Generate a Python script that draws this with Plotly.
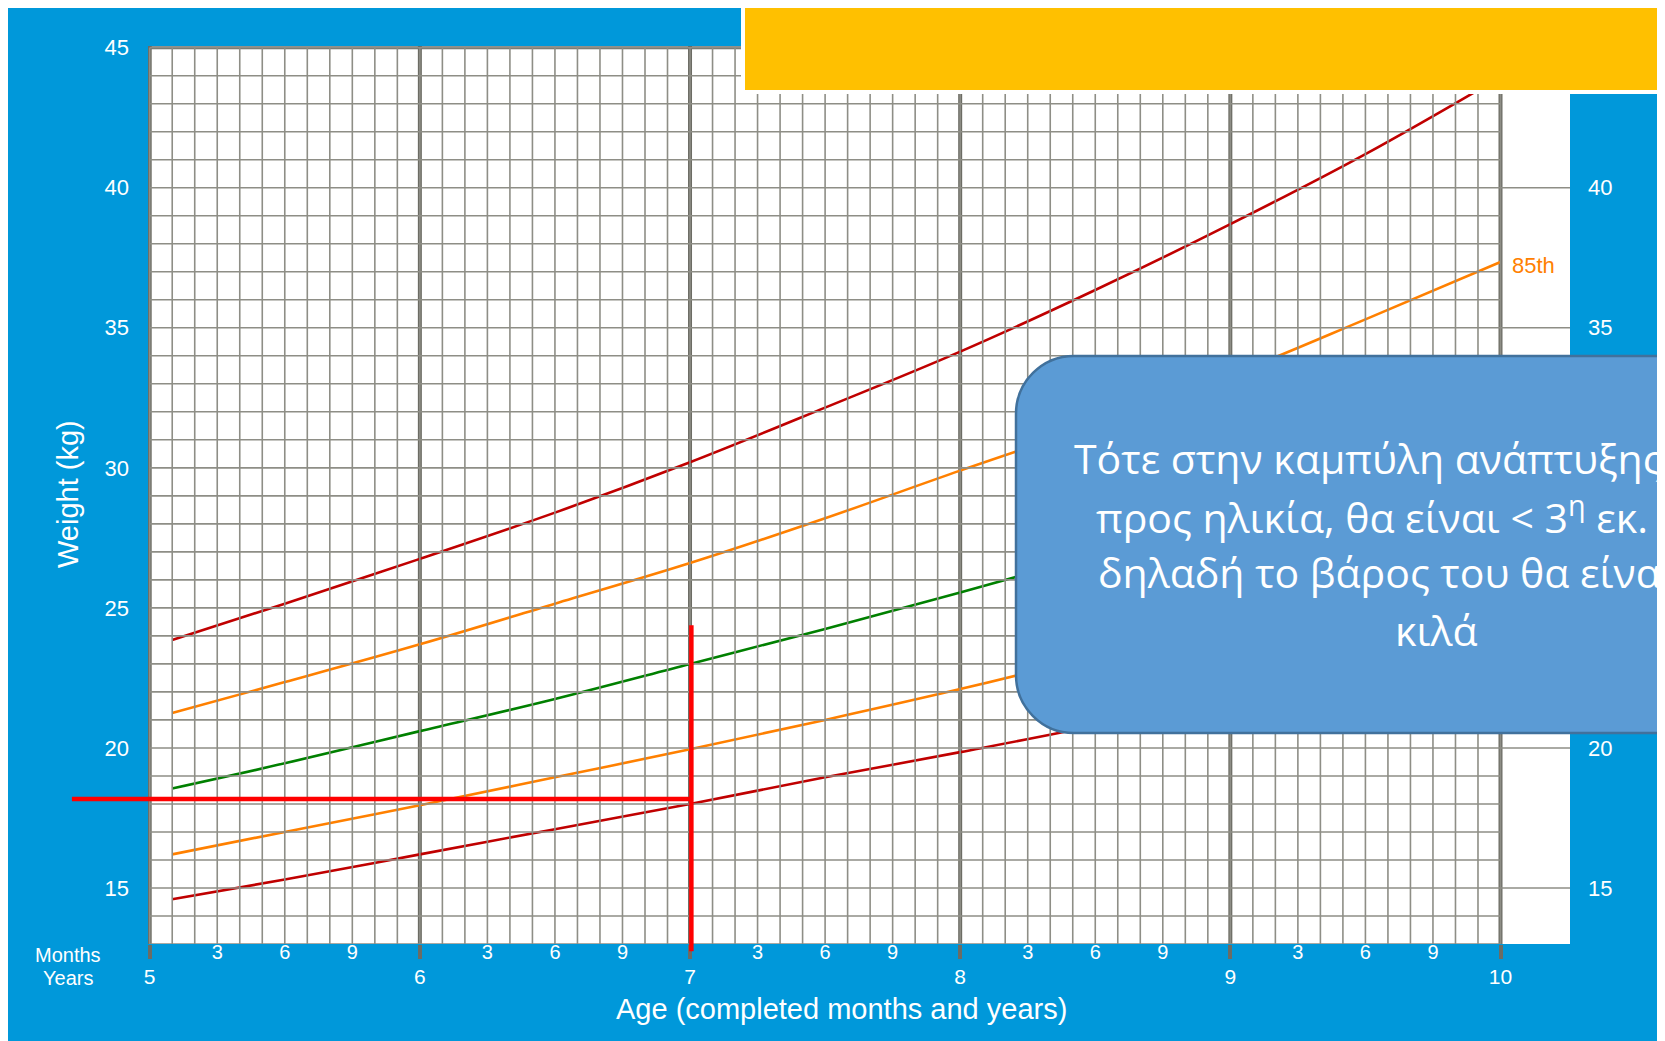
import plotly.graph_objects as go

# ---------------- data ----------------
ages = [5.083, 5.5, 6.0, 6.5, 7.0, 7.5, 8.0, 8.5, 9.0, 9.5, 10.0]
p3 = [14.6, 15.3, 16.2, 17.1, 18.0, 18.95, 19.85, 20.8, 21.9, 23.0, 24.2]
p15 = [16.2, 17.0, 17.95, 18.95, 19.95, 21.0, 22.1, 23.3, 24.6, 26.0, 27.5]
p50 = [18.55, 19.45, 20.6, 21.75, 23.0, 24.25, 25.55, 26.9, 28.2, 29.7, 31.2]
p85 = [21.25, 22.35, 23.7, 25.15, 26.6, 28.2, 29.9, 31.55, 33.3, 35.3, 37.35]
p97 = [23.85, 25.15, 26.75, 28.4, 30.2, 32.15, 34.15, 36.35, 38.7, 41.2, 43.95]
label_85 = "85th"

year_ticks = [5, 6, 7, 8, 9, 10]
month_ticks = [3, 6, 9]
weight_ticks_left = [15, 20, 25, 30, 35, 40, 45]
weight_ticks_right = [15, 20, 35, 40]   # 25 and 30 lie under the callout box

child_age = 7.005
child_weight = 18.18
guide_age_start = 4.712
guide_weight_top = 24.38
guide_weight_bottom = 12.74

callout_lines = [
    "Τότε στην καμπύλη ανάπτυξης βάρους",
    "προς ηλικία, θα είναι &lt; 3<sup>η</sup> εκ. θέση",
    "δηλαδή το βάρος του θα είναι 18",
    "κιλά",
]

# ---------------- layout geometry ----------------
PAGE_OFF = 8                      # default body margin of the html page
W, H = 1665 - PAGE_OFF, 1041 - PAGE_OFF
ML, MR, MT, MB = 140, 95, 38, 97
PW, PH = W - ML - MR, H - MT - MB
X_RANGE = [4.9937, 4.9937 + PW / 270.16]
Y_RANGE = [13.0, 45.06]

BLUE = "#0098DA"
GRID = "#8E8E86"
GRID_DARK = "#6C6C64"
RED = "#C00000"
ORANGE = "#FF8000"
GREEN = "#008000"
NARROW = "Liberation Sans Narrow, Arial Narrow, Liberation Sans, Arial"


def px_x(px):
    """page pixel x -> paper coordinate"""
    return (px - PAGE_OFF - ML) / PW


def px_y(py):
    """page pixel y -> paper coordinate"""
    return (H - MB - (py - PAGE_OFF)) / PH


fig = go.Figure()

# ---------------- grid ----------------
month_positions = [5 + k / 12 for k in range(0, 61)]
gx, gy = [], []
for m in month_positions:
    gx += [m, m, None]
    gy += [13, 45, None]
for kg in range(13, 46):
    gx += [5, 10, None]
    gy += [kg, kg, None]
for kg in range(15, 46, 5):
    gx += [10, X_RANGE[1], None]
    gy += [kg, kg, None]
fig.add_trace(go.Scatter(x=gx, y=gy, mode="lines", line=dict(color=GRID, width=1.6),
                         hoverinfo="skip", showlegend=False, xaxis="x2"))

fig.add_trace(go.Scatter(x=[X_RANGE[0], X_RANGE[1]], y=[45, 45], mode="lines",
                         line=dict(color=GRID_DARK, width=3), hoverinfo="skip", showlegend=False,
                         yaxis="y2"))
yx, yy = [], []
for yr in year_ticks:
    yx += [yr, yr, None]
    yy += [13, Y_RANGE[1], None]
fig.add_trace(go.Scatter(x=yx, y=yy, mode="lines", line=dict(color=GRID_DARK, width=4),
                         hoverinfo="skip", showlegend=False))

# ---------------- percentile curves ----------------
for vals, col in [(p3, RED), (p15, ORANGE), (p50, GREEN), (p85, ORANGE), (p97, RED)]:
    fig.add_trace(go.Scatter(x=ages, y=vals, mode="lines", line=dict(color=col, width=2.6, shape="spline"),
                             hoverinfo="skip", showlegend=False))

# ---------------- shapes ----------------
shapes = []
xspan = X_RANGE[1] - X_RANGE[0]
yspan = Y_RANGE[1] - Y_RANGE[0]
shapes.append(dict(type="line", xref="x domain", yref="y",
                   x0=(guide_age_start - X_RANGE[0]) / xspan, x1=(child_age - X_RANGE[0]) / xspan,
                   y0=child_weight, y1=child_weight, line=dict(color="#FF0000", width=4.5), layer="above"))
shapes.append(dict(type="line", xref="x", yref="y domain", x0=child_age, x1=child_age,
                   y0=(guide_weight_bottom - Y_RANGE[0]) / yspan, y1=(guide_weight_top - Y_RANGE[0]) / yspan,
                   line=dict(color="#FF0000", width=4.5), layer="above"))

# yellow banner
shapes.append(dict(type="rect", xref="paper", yref="paper", x0=px_x(743), x1=px_x(1700),
                   y0=px_y(92), y1=px_y(-20), fillcolor="#FFC000", line=dict(color="white", width=4),
                   layer="above"))

# callout rounded box
L, R, T, B, r = 1016, 1745, 356, 733, 58
k = 0.5523 * r
path = (f"M {px_x(L + r)},{px_y(T)} L {px_x(R)},{px_y(T)} L {px_x(R)},{px_y(B)} L {px_x(L + r)},{px_y(B)} "
        f"C {px_x(L + r - k)},{px_y(B)} {px_x(L)},{px_y(B - r + k)} {px_x(L)},{px_y(B - r)} "
        f"L {px_x(L)},{px_y(T + r)} "
        f"C {px_x(L)},{px_y(T + r - k)} {px_x(L + r - k)},{px_y(T)} {px_x(L + r)},{px_y(T)} Z")
shapes.append(dict(type="path", xref="paper", yref="paper", path=path, fillcolor="#5B9BD5",
                   line=dict(color="#41719C", width=2.5), layer="above"))

# ---------------- annotations ----------------
annotations = []
annotations.append(dict(text=label_85, x=ages[-1], y=p85[-1], xref="x", yref="y", xanchor="left",
                        yanchor="middle", xshift=9, yshift=-4, showarrow=False,
                        font=dict(color=ORANGE, size=22, family=NARROW)))

line_x = [1072, 1094, 1096, 1393]
line_y = [458, 515, 572, 630]
for txt, lx, ly in zip(callout_lines, line_x, line_y):
    annotations.append(dict(text=txt, xref="paper", yref="paper", x=px_x(lx), y=px_y(ly),
                            xanchor="left", yanchor="middle", showarrow=False,
                            font=dict(family="Open Sans, Noto Sans", size=41, color="white")))

annotations.append(dict(text="Months", xref="paper", yref="paper", x=px_x(68), y=px_y(955), showarrow=False,
                        xanchor="center", yanchor="middle", font=dict(family=NARROW, size=20, color="white")))
annotations.append(dict(text="Years", xref="paper", yref="paper", x=px_x(68), y=px_y(978), showarrow=False,
                        xanchor="center", yanchor="middle", font=dict(family=NARROW, size=20, color="white")))
annotations.append(dict(text="Age (completed months and years)", xref="paper", yref="paper", x=px_x(841),
                        y=px_y(1009), showarrow=False, xanchor="center", yanchor="middle",
                        font=dict(family="Liberation Sans, Arial", size=29, color="white")))
annotations.append(dict(text="Weight (kg)", xref="paper", yref="paper", x=px_x(68), y=px_y(494), showarrow=False,
                        textangle=-90, xanchor="center", yanchor="middle",
                        font=dict(family="Liberation Sans, Arial", size=29, color="white")))

month_vals = [y + m / 12 for y in year_ticks[:-1] for m in month_ticks]
month_text = [str(m) for y in year_ticks[:-1] for m in month_ticks]

fig.update_layout(
    width=W, height=H,
    margin=dict(l=ML, r=MR, t=MT, b=MB, pad=0),
    paper_bgcolor=BLUE, plot_bgcolor="white",
    font=dict(family=NARROW, color="white"),
    showlegend=False,
    shapes=shapes, annotations=annotations,
    xaxis=dict(range=X_RANGE, showgrid=False, zeroline=False, showline=False,
               tickmode="array", tickvals=year_ticks, ticktext=[str(v) for v in year_ticks],
               ticks="outside", ticklen=14, tickwidth=4, tickcolor=GRID_DARK,
               tickfont=dict(size=21, color="white", family=NARROW), ticklabelstandoff=0),
    xaxis2=dict(range=X_RANGE, overlaying="x", anchor="y", side="bottom", showgrid=False, zeroline=False,
                showline=False, tickmode="array", tickvals=month_vals, ticktext=month_text, ticks="",
                tickfont=dict(size=20, color="white", family=NARROW), ticklabelstandoff=-6),
    yaxis=dict(range=Y_RANGE, showgrid=False, zeroline=False, showline=False,
               tickmode="array", tickvals=weight_ticks_left, ticktext=[str(v) for v in weight_ticks_left],
               ticks="", tickfont=dict(size=22, color="white", family=NARROW), ticklabelstandoff=18),
    yaxis2=dict(range=Y_RANGE, overlaying="y", side="right", anchor="x", showgrid=False, zeroline=False,
                showline=False, tickmode="array", tickvals=weight_ticks_right,
                ticktext=[str(v) for v in weight_ticks_right], ticks="",
                tickfont=dict(size=22, color="white", family=NARROW), ticklabelstandoff=17),
)

fig.write_html("out.html")
